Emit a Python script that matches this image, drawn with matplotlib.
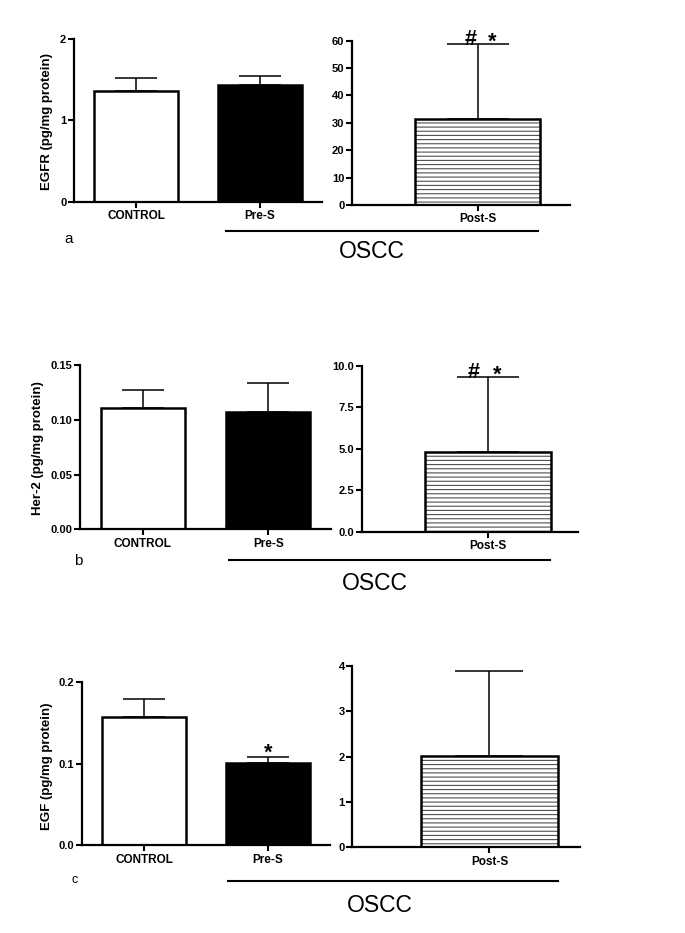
import matplotlib
matplotlib.use('Agg')
import matplotlib.pyplot as plt
from matplotlib.lines import Line2D

# ---------------- data ----------------
left_groups = ['CONTROL', 'Pre-S']
right_group = ['Post-S']

egfr_mean = [1.36, 1.43]
egfr_err = [0.16, 0.12]
egfr_post_mean = [31.5]
egfr_post_err = [27.3]

her2_mean = [0.111, 0.107]
her2_err = [0.016, 0.027]
her2_post_mean = [4.82]
her2_post_err = [4.50]

egf_mean = [0.158, 0.101]
egf_err = [0.022, 0.007]
egf_post_mean = [2.02]
egf_post_err = [1.86]

egfr_left_ticks = [0, 1, 2]
egfr_left_ticklabels = ['0', '1', '2']
egfr_right_ticks = [0, 10, 20, 30, 40, 50, 60]
egfr_right_ticklabels = ['0', '10', '20', '30', '40', '50', '60']

her2_left_ticks = [0, 0.05, 0.10, 0.15]
her2_left_ticklabels = ['0.00', '0.05', '0.10', '0.15']
her2_right_ticks = [0, 2.5, 5.0, 7.5, 10.0]
her2_right_ticklabels = ['0.0', '2.5', '5.0', '7.5', '10.0']

egf_left_ticks = [0, 0.1, 0.2]
egf_left_ticklabels = ['0.0', '0.1', '0.2']
egf_right_ticks = [0, 1, 2, 3, 4]
egf_right_ticklabels = ['0', '1', '2', '3', '4']

ylabels = ['EGFR (pg/mg protein)', 'Her-2 (pg/mg protein)', 'EGF (pg/mg protein)']
panel_letters = ['a', 'b', 'c']
group_label = 'OSCC'

# ---------------- figure ----------------
plt.rcParams['font.family'] = ['Liberation Sans', 'DejaVu Sans']
plt.rcParams['hatch.linewidth'] = 0.8
W, H = 685, 933
fig = plt.figure(figsize=(W / 100, H / 100), dpi=100)


def px_axes(l, r, t, b):
    return fig.add_axes([l / W, 1 - b / H, (r - l) / W, (b - t) / H])


def style(ax, ticks, ticklabels, ylim):
    for s in ['top', 'right']:
        ax.spines[s].set_visible(False)
    for s in ['left', 'bottom']:
        ax.spines[s].set_linewidth(1.6)
        ax.spines[s].set_color('black')
    ax.set_ylim(*ylim)
    ax.set_yticks(ticks)
    ax.set_yticklabels(ticklabels, fontweight='bold', fontsize=8)
    ax.tick_params(axis='both', direction='out', length=4, width=1.5, pad=1.5)
    ax.tick_params(axis='x', length=4, pad=2)
    ax.set_facecolor('none')


def left_panel(box, means, errs, ticks, ticklabels, ylim, capsize):
    ax = px_axes(*box)
    xs = list(range(len(means)))
    ax.errorbar(xs, means, yerr=[[0] * len(errs), errs], fmt='none', ecolor='black',
                elinewidth=1.1, capsize=capsize, capthick=1.1, zorder=1)
    ax.bar(xs, means, width=0.672, color=['white', 'black'], edgecolor='black',
           linewidth=1.8, zorder=2)
    ax.set_xlim(-0.5, 1.5)
    ax.set_xticks(xs)
    ax.set_xticklabels(left_groups, fontweight='bold', fontsize=8.5)
    style(ax, ticks, ticklabels, ylim)
    return ax


def right_panel(box, means, errs, ticks, ticklabels, ylim, xlim, capsize):
    ax = px_axes(*box)
    xs = [0]
    ax.errorbar(xs, means, yerr=[[0], errs], fmt='none', ecolor='black',
                elinewidth=1.1, capsize=capsize, capthick=1.1, zorder=1)
    ax.bar(xs, means, width=1.0, color='white', edgecolor='#505050', hatch='----',
           linewidth=0, zorder=2)
    ax.bar(xs, means, width=1.0, fill=False, edgecolor='black', linewidth=1.8, zorder=3)
    ax.set_xlim(*xlim)
    ax.set_xticks(xs)
    ax.set_xticklabels(right_group, fontweight='bold', fontsize=8.5)
    style(ax, ticks, ticklabels, ylim)
    return ax


# panel a
axa1 = left_panel((74, 322, 39, 201.7), egfr_mean, egfr_err,
                  egfr_left_ticks, egfr_left_ticklabels, (0, 2), 15)
axa2 = right_panel((352, 570, 40.7, 205), egfr_post_mean, egfr_post_err,
                   egfr_right_ticks, egfr_right_ticklabels, (0, 60), (-1.004, 0.74), 22.5)
# panel b
axb1 = left_panel((80, 331, 365, 529.3), her2_mean, her2_err,
                  her2_left_ticks, her2_left_ticklabels, (0, 0.15), 15)
axb2 = right_panel((361.7, 578, 365.7, 531.7), her2_post_mean, her2_post_err,
                   her2_right_ticks, her2_right_ticklabels, (0, 10), (-1.002, 0.714), 22.5)
# panel c
axc1 = left_panel((82, 330, 682.3, 845.3), egf_mean, egf_err,
                  egf_left_ticks, egf_left_ticklabels, (0, 0.2), 15)
axc2 = right_panel((352.3, 580, 666, 847.3), egf_post_mean, egf_post_err,
                   egf_right_ticks, egf_right_ticklabels, (0, 4), (-1.0, 0.66), 24.5)

# significance marks
def mark(ax, x, y, txt, dx, dy):
    ax.annotate(txt, xy=(x, y), xytext=(dx, dy), textcoords='offset points',
                ha='center', va='baseline', fontsize=15.5, fontweight='bold',
                annotation_clip=False, zorder=5)

mark(axa2, 0, egfr_post_mean[0] + egfr_post_err[0], '#', -4.9, -0.5)
mark(axa2, 0, egfr_post_mean[0] + egfr_post_err[0], '*', 10.5, -3)
mark(axb2, 0, her2_post_mean[0] + her2_post_err[0], '#', -10, -0.5)
mark(axb2, 0, her2_post_mean[0] + her2_post_err[0], '*', 6.3, -3)
mark(axc1, 1, egf_mean[1] + egf_err[1], '*', 0, -1)

# y labels
for (xp, yp), lab in zip([(47, 121), (38, 448), (47, 766)], ylabels):
    fig.text(xp / W, 1 - yp / H, lab, rotation=90, ha='center', va='center',
             fontsize=9.5, fontweight='bold')

# panel letters
for (xp, yp, fs), lt in zip([(69, 239, 11), (78, 561, 11), (75, 880, 9)], panel_letters):
    fig.text(xp / W, 1 - yp / H, lt, ha='center', va='center', fontsize=fs)

# OSCC group lines and labels
for (x1, x2, yl, xt, yt) in [(226, 538, 230.7, 372, 252),
                             (229, 550, 560, 375, 583),
                             (228, 558, 880.7, 380, 905)]:
    fig.add_artist(Line2D([x1 / W, x2 / W], [1 - yl / H, 1 - yl / H],
                          transform=fig.transFigure, color='black', lw=1.5))
    fig.text(xt / W, 1 - yt / H, group_label, ha='center', va='center', fontsize=16.5)

fig.savefig('out.png', dpi=100)
